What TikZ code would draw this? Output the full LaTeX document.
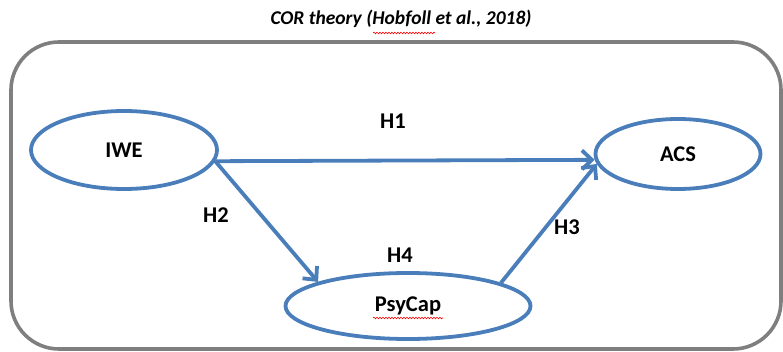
\documentclass[tikz,border=0pt]{standalone}
\usepackage{fontspec}
\setmainfont{Carlito}
\usetikzlibrary{arrows.meta,shapes.geometric,decorations.pathmorphing}
\definecolor{lineblue}{HTML}{4A7EBB}
\definecolor{framegray}{HTML}{7F7F7F}
\begin{document}
\begin{tikzpicture}[x=1pt,y=-1pt,
  var/.style={ellipse,draw=lineblue,line width=3.8pt,inner sep=0pt,
    font=\fontsize{22.5}{26}\selectfont\bfseries},
  hyp/.style={font=\fontsize{22.5}{26}\selectfont\bfseries,inner sep=0pt},
  link/.style={draw=lineblue,line width=3.8pt,
    -{Straight Barb[length=10pt,width=19pt,line width=3.8pt]}},
  squiggle/.style={draw=red,line width=0.6pt,decorate,
    decoration={snake,amplitude=0.8pt,segment length=3pt}}]
\useasboundingbox (0,0) rectangle (783,352);
\draw[framegray,line width=3.6pt,rounded corners=48pt] (11,42) rectangle (781,349);
\node[font=\fontsize{19.5}{23}\selectfont\bfseries\itshape] (title) at (401,19) {COR theory (Hobfoll et al., 2018)};
\draw[squiggle] (373,33) -- (435,33);
\node[var,minimum width=186pt,minimum height=78pt] (iwe) at (124,150) {IWE};
\node[var,minimum width=165pt,minimum height=70pt] (acs) at (678,154) {ACS};
\node[var,minimum width=245pt,minimum height=66pt] (psy) at (408,306) {PsyCap};
\draw[squiggle] (373,318) -- (443,318);
\draw[link] (iwe.-7) -- (acs.184.5);
\draw[link] (iwe.-7) -- (psy.165);
\draw[link] (psy.14.6) -- (acs.187);
\node[hyp] (h1) at (393,121) {H1};
\node[hyp] (h2) at (216,215) {H2};
\node[hyp] (h3) at (567,227) {H3};
\node[hyp] (h4) at (400,255) {H4};
\end{tikzpicture}
\end{document}
